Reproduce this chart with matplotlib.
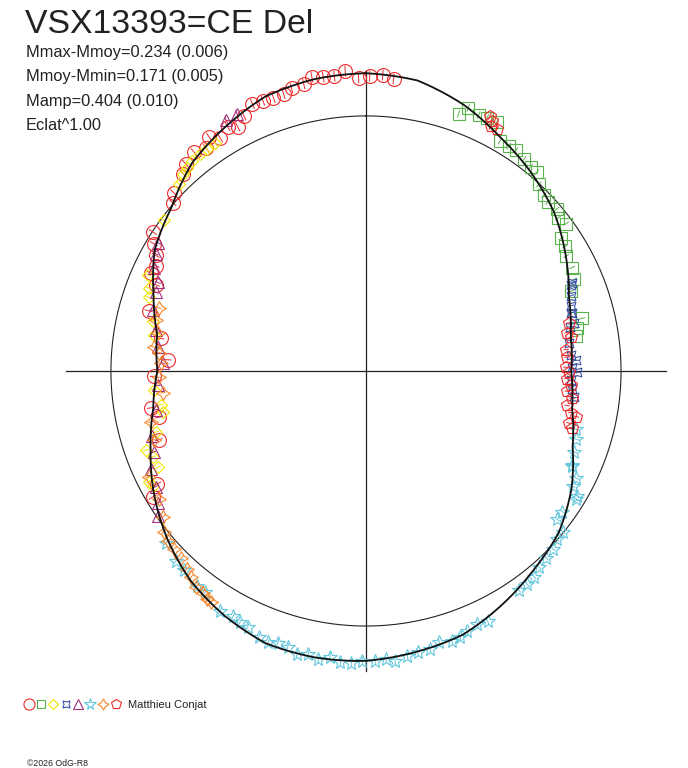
import numpy as np
import matplotlib
matplotlib.use("Agg")
import matplotlib.pyplot as plt

plt.rcParams['font.family'] = ['Liberation Sans', 'DejaVu Sans']

# textes du graphique
star_name = "VSX13393=CE Del"
mmax_mmoy = (0.234, 0.006)
mmoy_mmin = (0.171, 0.005)
mamp = (0.404, 0.010)
eclat_pow = 1.00
observer = "Matthieu Conjat"
copyright_txt = "\u00a92026 OdG-R8"

# courbe ajustee : phase, M - Mmoy
curve_phase = [0.000, 0.028, 0.056, 0.083, 0.111, 0.139, 0.167, 0.194, 0.222, 0.250,
               0.278, 0.306, 0.333, 0.361, 0.389, 0.417, 0.444, 0.472, 0.500, 0.528,
               0.556, 0.583, 0.611, 0.639, 0.667, 0.694, 0.722, 0.750, 0.778, 0.806,
               0.833, 0.861, 0.889, 0.917, 0.944, 0.972, 1.000]
curve_dm = [-0.168, -0.158, -0.115, -0.060, -0.012, 0.040, 0.110, 0.180, 0.222, 0.236,
            0.215, 0.160, 0.080, 0.015, -0.022, -0.065, -0.105, -0.122, -0.139, -0.143,
            -0.140, -0.112, -0.075, -0.020, 0.045, 0.115, 0.180, 0.218, 0.200, 0.130,
            0.050, 0.005, -0.066, -0.108, -0.148, -0.163, -0.168]

# mesures (phase, M - Mmoy) par serie
circ_phase = [0.015, 0.009, 0.002, 0.996, 0.989, 0.983, 0.977, 0.971, 0.966, 0.959,
              0.954, 0.948, 0.942, 0.936, 0.929, 0.923, 0.918, 0.911, 0.906, 0.901,
              0.894, 0.886, 0.881, 0.869, 0.864, 0.842, 0.836, 0.830, 0.824, 0.818,
              0.812, 0.793, 0.775, 0.759, 0.746, 0.723, 0.715, 0.699, 0.671, 0.665]
circ_dm = [-0.151, -0.163, -0.158, -0.151, -0.178, -0.164, -0.165, -0.172, -0.153, -0.148,
           -0.136, -0.133, -0.137, -0.140, -0.113, -0.085, -0.104, -0.081, -0.106, -0.078,
           -0.094, -0.081, -0.059, -0.030, -0.005, 0.003, 0.032, 0.066, 0.088, 0.081,
           0.126, 0.133, 0.222, 0.272, 0.199, 0.169, 0.199, 0.169, 0.079, 0.031]

sq_phase = [0.055, 0.059, 0.066, 0.071, 0.077, 0.084, 0.090, 0.095, 0.102, 0.108,
            0.113, 0.119, 0.126, 0.131, 0.138, 0.143, 0.149, 0.155, 0.161, 0.167,
            0.176, 0.184, 0.191, 0.212, 0.218, 0.224]
sq_dm = [-0.075, -0.110, -0.100, -0.104, -0.108, -0.046, -0.047, -0.048, -0.038, -0.030,
         -0.029, 0.003, 0.021, 0.030, 0.021, 0.042, 0.028, 0.084, 0.089, 0.109,
         0.109, 0.124, 0.160, 0.148, 0.183, 0.195]

dia_phase = [0.907, 0.901, 0.896, 0.890, 0.885, 0.881, 0.875, 0.852, 0.816, 0.808,
             0.802, 0.787, 0.777, 0.736, 0.724, 0.718, 0.705, 0.695, 0.689, 0.681,
             0.675, 0.671]
dia_dm = [-0.075, -0.073, -0.074, -0.072, -0.063, -0.056, -0.041, 0.013, 0.074, 0.101,
          0.115, 0.165, 0.184, 0.196, 0.221, 0.224, 0.167, 0.094, 0.112, 0.114,
          0.049, 0.055]

ast_phase = [0.186, 0.187, 0.194, 0.201, 0.206, 0.206, 0.214, 0.216, 0.228, 0.238,
             0.242, 0.248, 0.251, 0.257, 0.264, 0.270]
ast_dm = [0.141, 0.149, 0.167, 0.183, 0.194, 0.190, 0.193, 0.218, 0.236, 0.233,
          0.208, 0.231, 0.205, 0.235, 0.226, 0.212]

tri_phase = [0.926, 0.919, 0.838, 0.831, 0.822, 0.814, 0.807, 0.794, 0.781, 0.768,
             0.756, 0.739, 0.721, 0.703, 0.692, 0.682, 0.670, 0.660, 0.653]
tri_dm = [-0.130, -0.129, 0.047, 0.062, 0.086, 0.130, 0.139, 0.152, 0.190, 0.213,
          0.245, 0.218, 0.192, 0.145, 0.125, 0.081, 0.066, 0.038, 0.008]

star_phase = [0.637, 0.625, 0.618, 0.606, 0.600, 0.587, 0.579, 0.574, 0.569, 0.561,
              0.555, 0.550, 0.544, 0.538, 0.532, 0.526, 0.520, 0.514, 0.508, 0.502,
              0.495, 0.489, 0.484, 0.477, 0.471, 0.464, 0.458, 0.451, 0.446, 0.441,
              0.434, 0.428, 0.403, 0.397, 0.391, 0.385, 0.378, 0.371, 0.365, 0.359,
              0.355, 0.349, 0.337, 0.335, 0.331, 0.325, 0.319, 0.318, 0.309, 0.300,
              0.293]
star_dm = [-0.036, -0.058, -0.059, -0.075, -0.075, -0.104, -0.098, -0.104, -0.108, -0.128,
           -0.132, -0.123, -0.128, -0.144, -0.135, -0.147, -0.132, -0.147, -0.148, -0.139,
           -0.139, -0.134, -0.145, -0.131, -0.123, -0.121, -0.105, -0.114, -0.109, -0.098,
           -0.088, -0.094, -0.048, -0.051, -0.043, -0.028, -0.018, -0.012, 0.004, 0.004,
           0.057, 0.060, 0.038, 0.041, 0.082, 0.086, 0.129, 0.129, 0.144, 0.155,
           0.169]

x4_phase = [0.797, 0.788, 0.779, 0.768, 0.764, 0.756, 0.745, 0.733, 0.713, 0.700,
            0.678, 0.662, 0.651, 0.643, 0.637, 0.631, 0.624, 0.617, 0.612, 0.606,
            0.601, 0.597, 0.594]
x4_dm = [0.177, 0.179, 0.203, 0.193, 0.221, 0.235, 0.225, 0.240, 0.154, 0.145,
         0.059, 0.049, 0.022, -0.013, -0.024, -0.030, -0.033, -0.048, -0.065, -0.083,
         -0.082, -0.093, -0.096]

pent_phase = [0.072, 0.074, 0.075, 0.079, 0.213, 0.220, 0.224, 0.233, 0.239, 0.247,
              0.251, 0.256, 0.261, 0.266, 0.271, 0.277, 0.282, 0.284, 0.290, 0.293]
pent_dm = [-0.114, -0.102, -0.080, -0.082, 0.217, 0.238, 0.221, 0.257, 0.255, 0.263,
           0.247, 0.257, 0.233, 0.251, 0.221, 0.242, 0.215, 0.185, 0.213, 0.191]

# erreur typique (mag) par serie
errs = [0.020, 0.015, 0.015, 0.015, 0.015, 0.015, 0.015, 0.015]


def to_r(dm):
    # rayon = eclat relatif a la moyenne
    return (10 ** (-0.4 * np.asarray(dm))) ** eclat_pow


series = [
    (circ_phase, circ_dm, 'o', 10, '#ee2b2b'),
    (sq_phase, sq_dm, 's', 8, '#5ab44c'),
    (dia_phase, dia_dm, 'D', 6, '#f2e600'),
    (ast_phase, ast_dm, (4, 1, 45), 9, '#3b54a3'),
    (tri_phase, tri_dm, '^', 8.5, '#a3317f'),
    (star_phase, star_dm, '*', 10.5, '#62c6dc'),
    (x4_phase, x4_dm, (4, 1, 0), 10, '#f7862a'),
    (pent_phase, pent_dm, 'p', 9, '#ee2b2b'),
]

fig = plt.figure(figsize=(6.88, 7.68), dpi=100)

ax = fig.add_axes([0.0930, 0.1237, 0.8779, 0.7865], projection='polar')
ax.set_theta_zero_location('N')
ax.set_theta_direction(-1)
ax.set_ylim(0, 1.184)
ax.grid(False)
ax.set_xticks([])
ax.set_yticks([])
ax.spines['polar'].set_visible(False)
ax.patch.set_visible(False)

# axes en croix
arm = 1.176
for t in [0, np.pi / 2, np.pi, 3 * np.pi / 2]:
    ax.plot([t, t], [0, arm], color='#222222', lw=0.9, clip_on=False)

# cercle de reference (eclat moyen)
tt = np.linspace(0, 2 * np.pi, 400)
ax.plot(tt, np.ones_like(tt), color='#222222', lw=0.8)

# mesures avec barres d'erreur radiales
for (ph, dm, mk, ms, col), e in zip(series, errs):
    r = to_r(dm)
    rerr = r * 0.4 * np.log(10) * e
    ax.errorbar(2 * np.pi * np.asarray(ph), r, yerr=rerr, fmt='none',
                ecolor=col, elinewidth=0.7, capsize=0, clip_on=False)
    ax.plot(2 * np.pi * np.asarray(ph), r, linestyle='none', marker=mk, ms=ms,
            mfc='none', mec=col, mew=0.8, clip_on=False)

# courbe ajustee, tracee en coordonnees polaires (segments suivis en theta)
ln, = ax.plot(2 * np.pi * np.asarray(curve_phase), to_r(curve_dm),
              color='#111111', lw=1.3)
ln.get_path()._interpolation_steps = 30

# textes
fig.text(25 / 688, 1 - 33 / 768, star_name, fontsize=24.3, color='#222222', va='baseline')
lines = ["Mmax-Mmoy=%.3f (%.3f)" % mmax_mmoy,
         "Mmoy-Mmin=%.3f (%.3f)" % mmoy_mmin,
         "Mamp=%.3f (%.3f)" % mamp,
         "Eclat^%.2f" % eclat_pow]
for i, s in enumerate(lines):
    fig.text(26 / 688, 1 - (57 + 24.4 * i) / 768, s, fontsize=11.8,
             color='#222222', va='baseline')

# legende (en pixels)
lg = fig.add_axes([0, 0, 1, 1])
lg.set_xlim(0, 688)
lg.set_ylim(768, 0)
lg.axis('off')
leg_x = [29, 41, 53, 66, 78, 90, 103, 116]
for (ph, dm, mk, ms, col), x in zip(series, leg_x):
    lg.plot([x], [704], linestyle='none', marker=mk, ms=ms * 0.8,
            mfc='none', mec=col, mew=0.8)
lg.text(128, 705, observer, fontsize=8, color='#222222', va='center')
lg.text(27, 763, copyright_txt, fontsize=6.3, color='#222222', va='center')

fig.savefig("out.png", dpi=100)
